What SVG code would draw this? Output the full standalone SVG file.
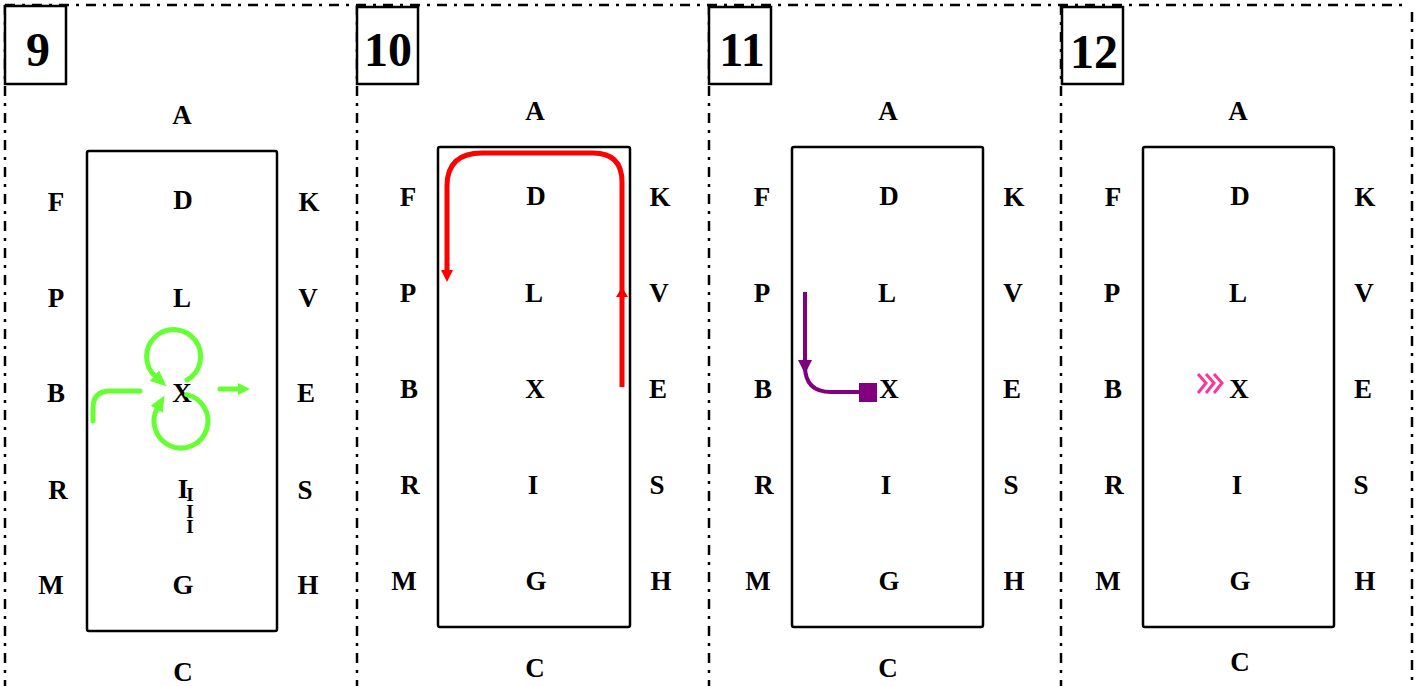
<svg xmlns="http://www.w3.org/2000/svg" width="1420" height="686" viewBox="0 0 1420 686">
<style>
.dd{stroke:#000;stroke-width:2.5;stroke-dasharray:10 7 3 7;fill:none}
.box{fill:#fff;stroke:#000;stroke-width:2.5}
.num{font-family:"Liberation Serif",serif;font-weight:bold;font-size:48px;text-anchor:middle;fill:#000}
.lb{font-family:"Liberation Serif",serif;font-weight:bold;font-size:27px;text-anchor:middle;fill:#000}
.frame{fill:none;stroke:#000;stroke-width:2.5}
.g{fill:none;stroke:#66ff33;stroke-width:5;stroke-linecap:round}
.r{fill:none;stroke:#ff0000;stroke-width:5}
.p{fill:none;stroke:#800080;stroke-width:4}
.ch{fill:none;stroke:#ff3399;stroke-width:3}
</style>
<defs>
<marker id="ga" markerUnits="userSpaceOnUse" markerWidth="20" markerHeight="16" refX="2" refY="7" orient="auto"><path d="M0,0 L16,7 L0,14 Z" fill="#66ff33"/></marker>
<marker id="ga2" markerUnits="userSpaceOnUse" markerWidth="16" markerHeight="14" refX="2" refY="6" orient="auto"><path d="M0,0 L12,6 L0,12 Z" fill="#66ff33"/></marker>
<marker id="ra" markerUnits="userSpaceOnUse" markerWidth="16" markerHeight="14" refX="2" refY="6" orient="auto"><path d="M0,0 L12,6 L0,12 Z" fill="#ff0000"/></marker>
</defs>
<g id="frames">
<path class="dd" d="M5,5 H1402"/>
<path class="dd" d="M5,5 V686"/>
<path class="dd" d="M357,5 V686"/>
<path class="dd" d="M709,5 V686"/>
<path class="dd" d="M1061,5 V686"/>
<path class="dd" d="M1412,12 V686"/>
</g>
<g id="panel9">
<rect class="box" x="5" y="6" width="61" height="78"/>
<text class="num" x="38" y="66">9</text>
<rect class="frame" x="87" y="151" width="190" height="480" rx="2"/>
<text class="lb" x="182" y="124">A</text>
<text class="lb" x="56" y="211">F</text><text class="lb" x="183" y="209">D</text><text class="lb" x="309" y="211">K</text>
<text class="lb" x="56" y="307">P</text><text class="lb" x="182" y="307">L</text><text class="lb" x="308" y="307">V</text>
<text class="lb" x="56" y="402">B</text><text class="lb" x="182" y="402">X</text><text class="lb" x="306" y="402">E</text>
<text class="lb" x="58" y="499">R</text><text class="lb" x="183" y="498">I</text><text class="lb" x="305" y="499">S</text>
<text class="lb" x="190" y="501" style="font-size:19px">I</text>
<text class="lb" x="190" y="518" style="font-size:19px">I</text>
<text class="lb" x="190" y="533" style="font-size:19px">I</text>
<text class="lb" x="51" y="594">M</text><text class="lb" x="183" y="594">G</text><text class="lb" x="308" y="594">H</text>
<text class="lb" x="183" y="681">C</text>
</g>
<g id="panel10">
<rect class="box" x="357" y="7" width="61" height="77"/>
<text class="num" x="388" y="66">10</text>
<rect class="frame" x="438" y="147" width="192" height="480" rx="2"/>
<text class="lb" x="535" y="120">A</text>
<text class="lb" x="408" y="206">F</text><text class="lb" x="536" y="205">D</text><text class="lb" x="660" y="206">K</text>
<text class="lb" x="408" y="302">P</text><text class="lb" x="534" y="302">L</text><text class="lb" x="659" y="302">V</text>
<text class="lb" x="409" y="398">B</text><text class="lb" x="535" y="398">X</text><text class="lb" x="658" y="398">E</text>
<text class="lb" x="410" y="494">R</text><text class="lb" x="533" y="494">I</text><text class="lb" x="657" y="494">S</text>
<text class="lb" x="404" y="590">M</text><text class="lb" x="536" y="590">G</text><text class="lb" x="661" y="590">H</text>
<text class="lb" x="535" y="677">C</text>
</g>
<g id="panel11">
<rect class="box" x="709" y="7" width="62" height="77"/>
<text class="num" x="742" y="66">11</text>
<rect class="frame" x="792" y="147" width="191" height="480" rx="2"/>
<text class="lb" x="888" y="120">A</text>
<text class="lb" x="762" y="206">F</text><text class="lb" x="889" y="205">D</text><text class="lb" x="1014" y="206">K</text>
<text class="lb" x="762" y="302">P</text><text class="lb" x="887" y="302">L</text><text class="lb" x="1013" y="302">V</text>
<text class="lb" x="763" y="398">B</text><text class="lb" x="889" y="398">X</text><text class="lb" x="1012" y="398">E</text>
<text class="lb" x="764" y="494">R</text><text class="lb" x="886" y="494">I</text><text class="lb" x="1011" y="494">S</text>
<text class="lb" x="758" y="590">M</text><text class="lb" x="889" y="590">G</text><text class="lb" x="1014" y="590">H</text>
<text class="lb" x="888" y="677">C</text>
</g>
<g id="panel12">
<rect class="box" x="1062" y="7" width="61" height="77"/>
<text class="num" x="1094" y="68">12</text>
<rect class="frame" x="1143" y="147" width="191" height="480" rx="2"/>
<text class="lb" x="1238" y="120">A</text>
<text class="lb" x="1113" y="206">F</text><text class="lb" x="1240" y="205">D</text><text class="lb" x="1365" y="206">K</text>
<text class="lb" x="1112" y="302">P</text><text class="lb" x="1238" y="302">L</text><text class="lb" x="1364" y="302">V</text>
<text class="lb" x="1113" y="398">B</text><text class="lb" x="1239" y="398">X</text><text class="lb" x="1363" y="398">E</text>
<text class="lb" x="1114" y="494">R</text><text class="lb" x="1237" y="494">I</text><text class="lb" x="1361" y="494">S</text>
<text class="lb" x="1108" y="590">M</text><text class="lb" x="1240" y="590">G</text><text class="lb" x="1365" y="590">H</text>
<text class="lb" x="1240" y="671">C</text>
</g>
<g id="connectors">
<path class="g" d="M187,380 A27,27 0 1 0 156,377" marker-end="url(#ga)"/>
<path class="g" d="M186.6,394.6 A27,27 0 1 1 157.6,407.5" marker-end="url(#ga)"/>
<path class="g" d="M93,421 V408 Q93,391 110,391 H140"/>
<path class="g" d="M220,389 H240" marker-end="url(#ga2)"/>
<path class="r" d="M622,387 V182 Q622,153 593,153 H482 Q447,153 447,186 V272" marker-end="url(#ra)"/>
<polygon points="622,287 628,297 616,297" fill="#ff0000"/>
<path class="p" d="M805,292 V366 Q805,392 831,392 H862"/>
<polygon points="798,360 812,360 805,374" fill="#800080"/>
<rect x="859" y="383" width="18" height="19" fill="#800080"/>
<path class="ch" d="M1198,374 L1206,383 L1198,393 M1206,374 L1214,383 L1206,393 M1214,374 L1222,383 L1214,393"/>
</g>
</svg>
